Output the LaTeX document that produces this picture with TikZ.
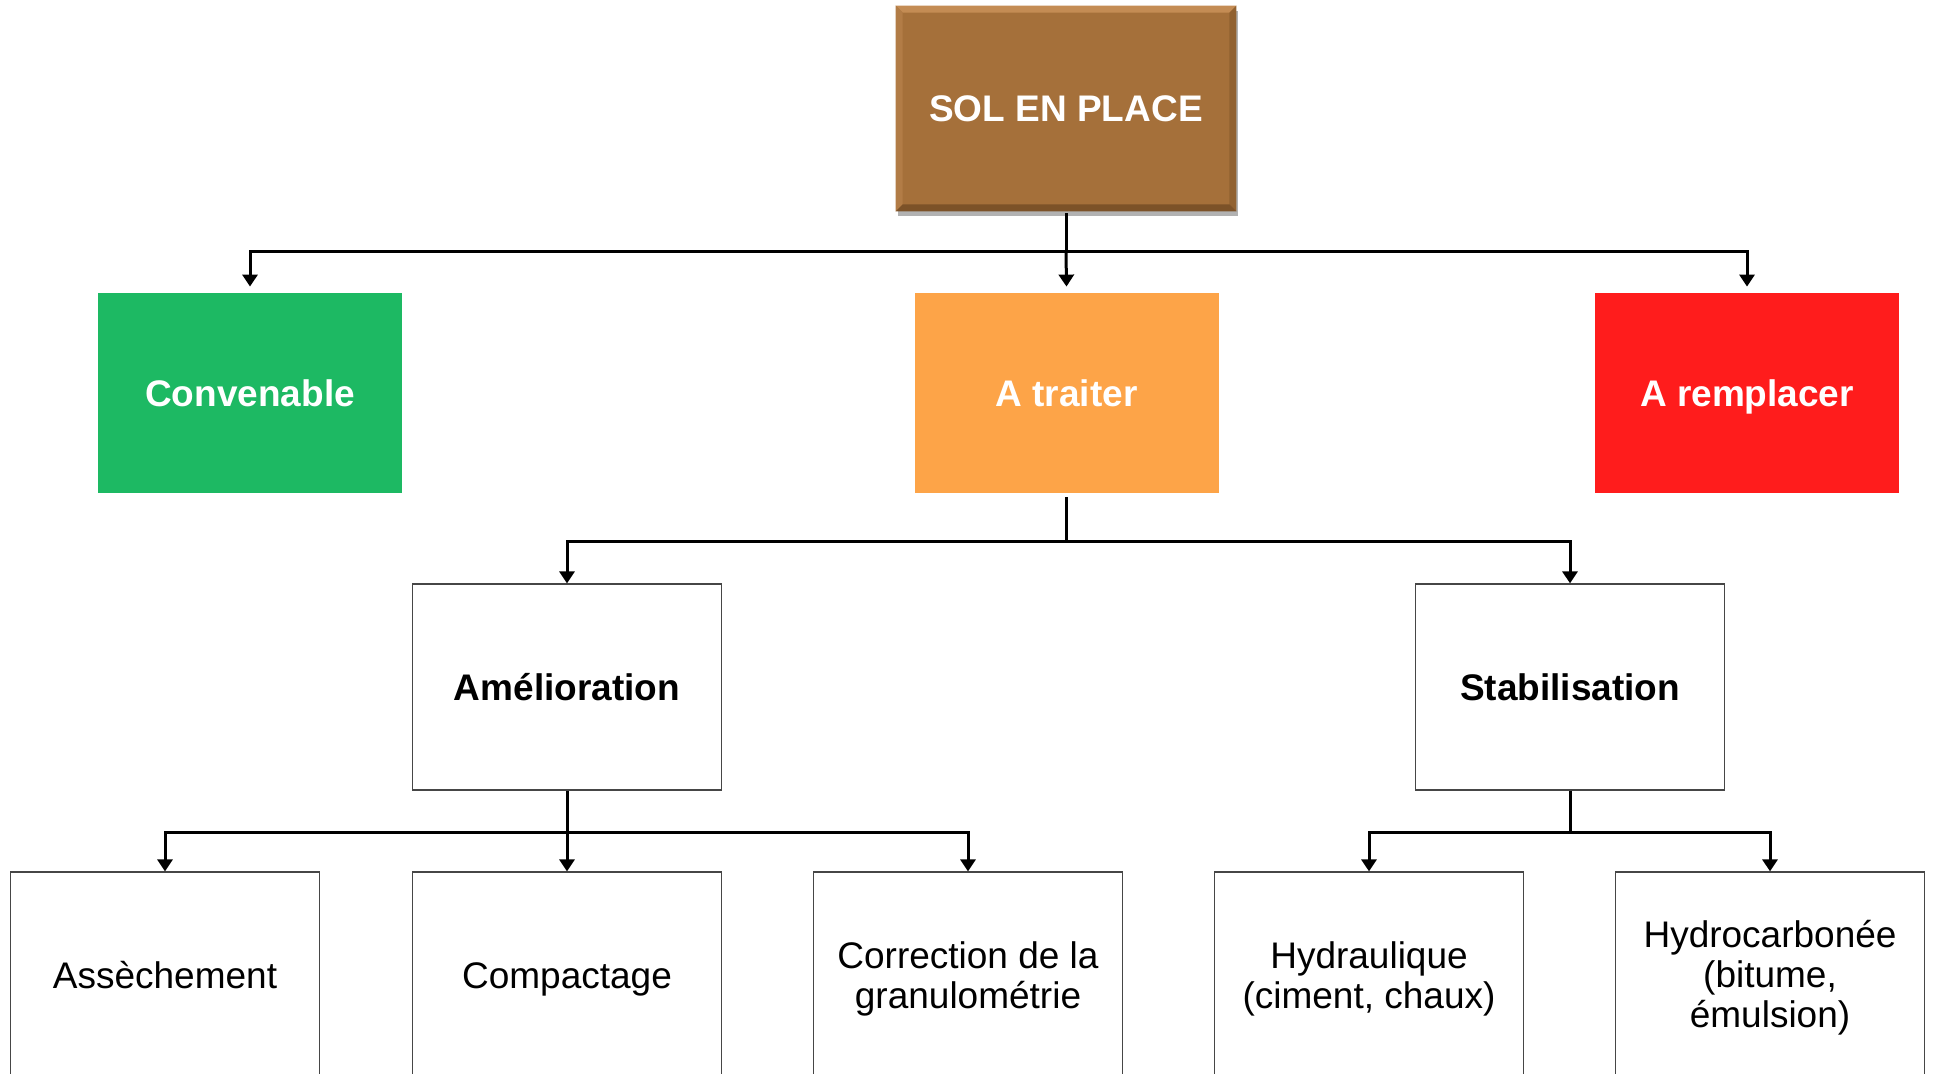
\documentclass[tikz,border=0pt]{standalone}
\usepackage{fontspec}
\setmainfont{Liberation Sans}
\usetikzlibrary{arrows.meta,shadows}
\definecolor{solbrown}{RGB}{165,112,58}
\definecolor{bevlight}{RGB}{196,140,84}
\definecolor{bevleft}{RGB}{178,124,70}
\definecolor{bevright}{RGB}{145,97,48}
\definecolor{bevdark}{RGB}{124,82,40}
\definecolor{convgreen}{RGB}{29,185,99}
\definecolor{traitorange}{RGB}{253,164,72}
\definecolor{remplred}{RGB}{255,28,28}
\definecolor{boxline}{RGB}{70,70,70}
\begin{document}
\begin{tikzpicture}[x=0.5pt,y=-0.5pt,
  oneline/.style={text height=13.25pt, text depth=0pt},
  solbox/.style={font=\fontsize{18.5pt}{20pt}\selectfont\bfseries, text=white, fill=solbrown, oneline,
    minimum width=170pt, minimum height=102.5pt, inner sep=0pt,
    drop shadow={shadow xshift=1pt, shadow yshift=-2.5pt, opacity=0.3, fill=black}},
  colbox/.style={font=\fontsize{18.5pt}{20pt}\selectfont\bfseries, text=white, oneline,
    minimum width=152pt, minimum height=100pt, inner sep=0pt},
  midbox/.style={font=\fontsize{18.5pt}{20pt}\selectfont\bfseries, draw=boxline, line width=0.6pt, oneline,
    minimum width=154.5pt, minimum height=103pt, inner sep=0pt, align=center},
  leafbox/.style={font=\fontsize{18.5pt}{20pt}\selectfont, draw=boxline, line width=0.6pt,
    minimum width=154.5pt, minimum height=103pt, inner sep=0pt, align=center},
  conn/.style={line width=1.5pt, line join=miter},
  arr/.style={conn, -{Triangle[width=7.5pt,length=6pt]}}
]
\clip (0,0) rectangle (1936,1074);
\useasboundingbox (0,0) rectangle (1936,1074);

% top node with bevel
\node[solbox] (sol) at (1066,108.5) {SOL EN PLACE};
\fill[bevlight] (sol.north west) -- (sol.north east) -- ([shift={(-3.5pt,-3.5pt)}]sol.north east) -- ([shift={(3.5pt,-3.5pt)}]sol.north west) -- cycle;
\fill[bevleft] (sol.north west) -- ([shift={(3.5pt,-3.5pt)}]sol.north west) -- ([shift={(3.5pt,3.5pt)}]sol.south west) -- (sol.south west) -- cycle;
\fill[bevright] (sol.north east) -- ([shift={(-3.5pt,-3.5pt)}]sol.north east) -- ([shift={(-3.5pt,3.5pt)}]sol.south east) -- (sol.south east) -- cycle;
\fill[bevdark] (sol.south west) -- (sol.south east) -- ([shift={(-3.5pt,3.5pt)}]sol.south east) -- ([shift={(3.5pt,3.5pt)}]sol.south west) -- cycle;

% second level
\node[colbox, fill=convgreen] (conv) at (250,393) {Convenable};
\node[colbox, fill=traitorange] (trait) at (1066.5,393) {A traiter};
\node[colbox, fill=remplred] (rempl) at (1747,393) {A remplacer};

% third level
\node[midbox] (amel) at (567,687) {Amélioration};
\node[midbox] (stab) at (1570,687) {Stabilisation};

% leaves
\node[leafbox, oneline] (ass) at (165,975) {Assèchement};
\node[leafbox, oneline] (comp) at (567,975) {Compactage};
\node[leafbox] (corr) at (968,975) {\rule{0pt}{17.5pt}Correction de la\\granulométrie};
\node[leafbox] (hydr) at (1369,975) {\rule{0pt}{17.5pt}Hydraulique\\(ciment, chaux)};
\node[leafbox] (hcarb) at (1770,975) {\rule{0pt}{16.5pt}Hydrocarbonée\\(bitume,\\émulsion)};

% junctions
\coordinate (j1) at (1066,252);
\coordinate (j2) at (1066.5,541);
\coordinate (j3) at (567,832);
\coordinate (j4) at (1570,832);

% connectors level 1
\draw[conn] ([yshift=-1pt]sol.south) -- (j1);
\draw[arr] (j1) -| ([yshift=3pt]conv.north);
\draw[arr] (j1) -- ([yshift=3pt]trait.north);
\draw[arr] (j1) -| ([yshift=3pt]rempl.north);

% connectors level 2
\draw[conn] ([yshift=-2pt]trait.south) -- (j2);
\draw[arr] (j2) -| (amel.north);
\draw[arr] (j2) -| (stab.north);

% connectors level 3
\draw[conn] (amel.south) -- (j3);
\draw[arr] (j3) -| (ass.north);
\draw[arr] (j3) -- (comp.north);
\draw[arr] (j3) -| (corr.north);
\draw[conn] (stab.south) -- (j4);
\draw[arr] (j4) -| (hydr.north);
\draw[arr] (j4) -| (hcarb.north);
\end{tikzpicture}
\end{document}
